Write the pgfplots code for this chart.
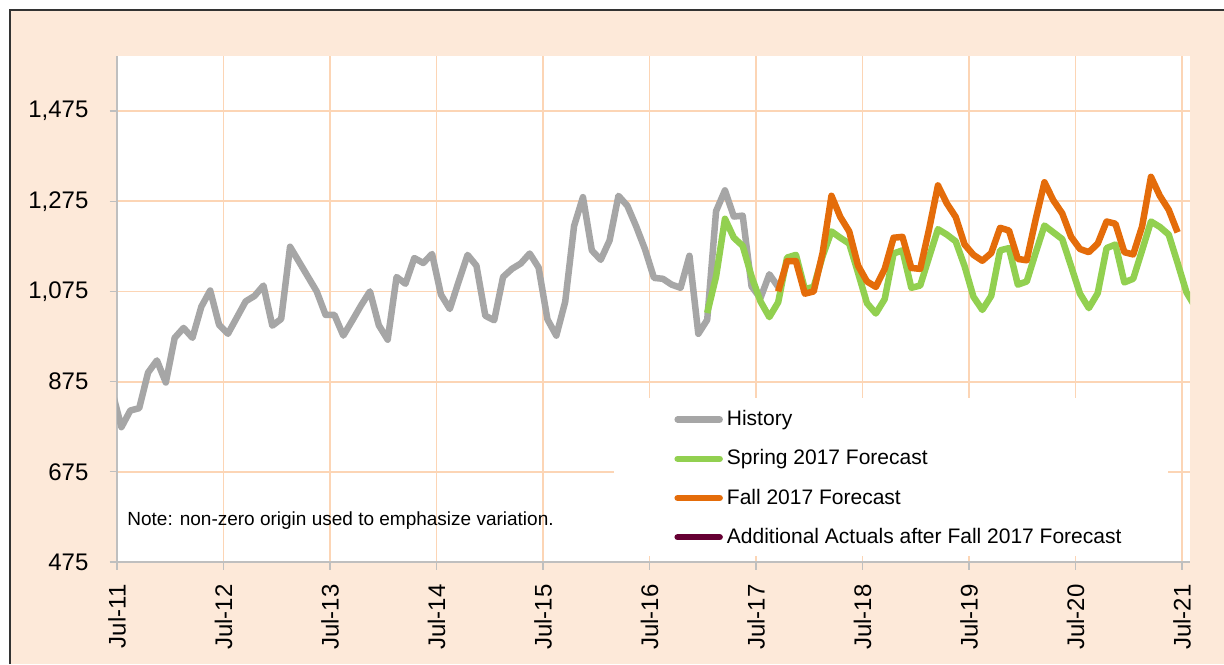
\documentclass[border=0pt]{standalone}
\usepackage{fontspec}
\setmainfont{Liberation Sans}
\usepackage{pgfplots}
\usepackage{pgfplotstable}
\pgfplotsset{compat=1.18}

\definecolor{bgpeach}{RGB}{253,233,217}
\definecolor{gridpeach}{RGB}{252,213,181}
\definecolor{histgray}{RGB}{166,166,166}
\definecolor{springgreen}{RGB}{146,208,80}
\definecolor{fallorange}{RGB}{228,108,10}
\definecolor{actualmaroon}{RGB}{102,0,51}
\definecolor{axisgray}{RGB}{191,191,191}

% months since Jul-11, points sit mid-month
\pgfplotstableread{
m v
-0.5 850
0.5 774
1.5 811
2.5 816
3.5 895
4.5 922
5.5 873
6.5 972
7.5 994
8.5 972
9.5 1041
10.5 1077
11.5 1001
12.5 981
13.5 1017
14.5 1053
15.5 1065
16.5 1088
17.5 999
18.5 1014
19.5 1174
20.5 1141
21.5 1108
22.5 1075
23.5 1023
24.5 1023
25.5 977
26.5 1010
27.5 1044
28.5 1075
29.5 1000
30.5 968
31.5 1107
32.5 1092
33.5 1149
34.5 1138
35.5 1158
36.5 1068
37.5 1036
38.5 1097
39.5 1156
40.5 1132
41.5 1021
42.5 1011
43.5 1107
44.5 1125
45.5 1137
46.5 1159
47.5 1128
48.5 1013
49.5 977
50.5 1052
51.5 1220
52.5 1284
53.5 1166
54.5 1145
55.5 1188
56.5 1287
57.5 1265
58.5 1219
59.5 1168
60.5 1105
61.5 1103
62.5 1090
63.5 1083
64.5 1154
65.5 981
66.5 1012
67.5 1253
68.5 1299
69.5 1241
70.5 1243
71.5 1086
72.5 1060
73.5 1113
74.5 1085
}\history

\pgfplotstableread{
m v
66.5 1027
67.5 1108
68.5 1236
69.5 1194
70.5 1176
71.5 1108
72.5 1053
73.5 1018
74.5 1051
75.5 1150
76.5 1156
77.5 1080
78.5 1085
79.5 1153
80.5 1208
81.5 1194
82.5 1181
83.5 1116
84.5 1049
85.5 1026
86.5 1058
87.5 1159
88.5 1166
89.5 1083
90.5 1088
91.5 1151
92.5 1213
93.5 1201
94.5 1186
95.5 1131
96.5 1063
97.5 1034
98.5 1065
99.5 1166
100.5 1171
101.5 1090
102.5 1097
103.5 1160
104.5 1221
105.5 1206
106.5 1191
107.5 1131
108.5 1070
109.5 1038
110.5 1071
111.5 1171
112.5 1179
113.5 1095
114.5 1103
115.5 1166
116.5 1230
117.5 1218
118.5 1201
119.5 1138
120.5 1073
121.5 1040
}\spring

\pgfplotstableread{
m v
74.5 1075
75.5 1142
76.5 1142
77.5 1070
78.5 1075
79.5 1160
80.5 1287
81.5 1240
82.5 1208
83.5 1132
84.5 1097
85.5 1085
86.5 1125
87.5 1194
88.5 1196
89.5 1127
90.5 1125
91.5 1213
92.5 1310
93.5 1270
94.5 1240
95.5 1179
96.5 1156
97.5 1143
98.5 1160
99.5 1216
100.5 1210
101.5 1147
102.5 1144
103.5 1234
104.5 1317
105.5 1277
106.5 1248
107.5 1196
108.5 1169
109.5 1162
110.5 1181
111.5 1230
112.5 1225
113.5 1162
114.5 1157
115.5 1219
116.5 1329
117.5 1287
118.5 1256
119.5 1206
}\fall

\begin{document}
\begin{tikzpicture}
\useasboundingbox (0pt,0pt) rectangle (612pt,332pt);
\fill[white] (0pt,0pt) rectangle (612pt,332pt);
\fill[bgpeach] (5pt,0pt) rectangle (612pt,327pt);
\draw[line width=1pt, black!80] (5pt,0pt) -- (5pt,327pt) -- (612pt,327pt);
\begin{axis}[
    at={(58.5pt,51pt)}, anchor=south west,
    scale only axis, width=536.5pt, height=253pt,
    xmin=0, xmax=120.9, ymin=475, ymax=1597,
    axis background/.style={fill=white},
    axis x line*=bottom, axis y line*=left,
    axis line style={-, draw=axisgray, line width=0.8pt},
    tick align=outside, major tick length=3.75pt,
    tick style={axisgray, line width=0.6pt},
    xtick={0,12,...,120},
    xticklabels={Jul-11,Jul-12,Jul-13,Jul-14,Jul-15,Jul-16,Jul-17,Jul-18,Jul-19,Jul-20,Jul-21},
    ytick={475,675,...,1475},
    /pgf/number format/1000 sep={,},
    /pgf/number format/assume math mode=true,
    ticklabel style={font=\fontsize{12}{14}\selectfont, text=black},
    xticklabel style={rotate=90, anchor=east},
    xticklabel shift=4pt, yticklabel shift=7pt,
    grid=major, major grid style={gridpeach, line width=0.9pt},
    legend style={at={(0.4632,0.324)}, anchor=north west, draw=none, fill=none,
        inner xsep=30pt, inner ysep=4pt, row sep=6.5pt,
        font=\fontsize{10.5}{12}\selectfont},
    legend cell align=left,
    legend image code/.code={\draw[#1, line width=3.25pt, line cap=round] (0pt,0pt) -- (21pt,0pt);},
    every axis plot/.append style={line width=3.25pt, line join=round},
]
\addplot[histgray] table[x=m, y=v] {\history};
\addlegendentry{History}
\addplot[springgreen] table[x=m, y=v] {\spring};
\addlegendentry{Spring 2017 Forecast}
\addplot[fallorange] table[x=m, y=v] {\fall};
\addlegendentry{Fall 2017 Forecast}
\addlegendimage{actualmaroon}
\addlegendentry{Additional Actuals after Fall 2017 Forecast}
% white panel behind the legend
\fill[white] (rel axis cs:0.4632,0.324) rectangle (rel axis cs:0.9795,0.0119);
\node[anchor=west, inner sep=0pt, font=\fontsize{9.5}{11}\selectfont]
    at (rel axis cs:0.0093,0.081) {Note: non-zero origin used to emphasize variation.};
\end{axis}
\end{tikzpicture}
\end{document}
